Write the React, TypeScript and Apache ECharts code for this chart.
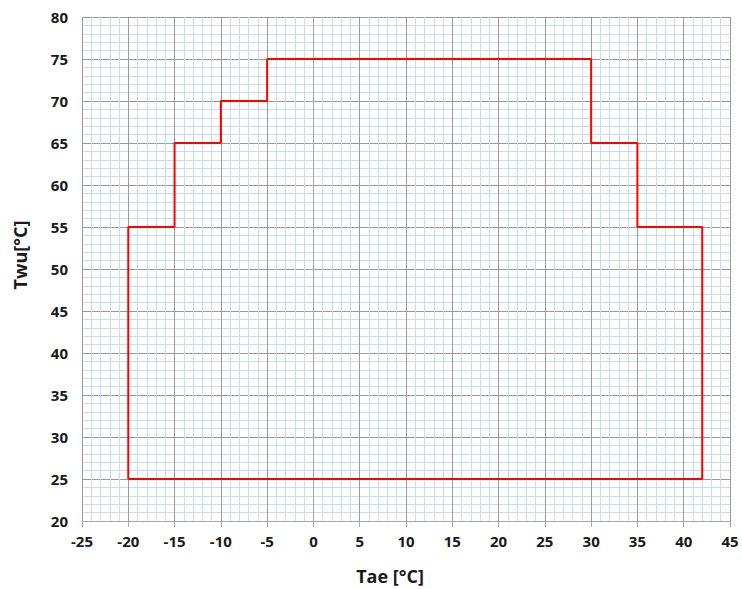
import React, { useEffect, useRef } from "react";
import * as echarts from "echarts";

const xValues = [-20, -20, -15, -15, -10, -10, -5, -5, 30, 30, 35, 35, 42, 42, -20];
const yValues = [25, 55, 55, 65, 65, 70, 70, 75, 75, 65, 65, 55, 55, 25, 25];
const xAxisName = "Tae [°C]";
const yAxisName = "Twu[°C]";

export default function App() {
  const ref = useRef<HTMLDivElement>(null);
  useEffect(() => {
    if (!ref.current) return;
    const chart = echarts.init(ref.current, undefined, { renderer: "svg" });
    const font = "'Open Sans', 'DejaVu Sans', sans-serif";
    const axisCommon = {
      type: "value" as const,
      interval: 5,
      axisLine: { show: true, lineStyle: { color: "#a6a6a6", width: 1 } },
      axisTick: { show: true, length: 6, lineStyle: { color: "#a6a6a6" } },
      axisLabel: { color: "#1a1a1a", fontSize: 15, fontWeight: "bold", fontFamily: font },
      splitLine: { show: true, lineStyle: { color: "#9a9a9a", width: 1 } },
      minorTick: { show: false, splitNumber: 5 },
      minorSplitLine: { show: true, lineStyle: { color: "#c6dcf5", width: 1 } },
    };
    const nameStyle = { fill: "#1a1a1a", fontSize: 18, fontWeight: "bold", fontFamily: font };
    chart.setOption({
      animation: false,
      backgroundColor: "#ffffff",
      grid: { left: 82, right: 12, top: 17, bottom: 68 },
      xAxis: {
        ...axisCommon,
        min: -25,
        max: 45,
        axisLabel: { ...axisCommon.axisLabel, margin: 12 },
      },
      yAxis: {
        ...axisCommon,
        min: 20,
        max: 80,
        axisLabel: { ...axisCommon.axisLabel, margin: 14 },
      },
      graphic: [
        {
          type: "text",
          x: 390,
          y: 576,
          style: { ...nameStyle, text: xAxisName, align: "center", verticalAlign: "middle" },
        },
        {
          type: "text",
          x: 20,
          y: 255,
          rotation: Math.PI / 2,
          style: { ...nameStyle, text: yAxisName, align: "center", verticalAlign: "middle" },
        },
      ],
      series: [
        {
          type: "line",
          data: xValues.map((x, i) => [x, yValues[i]]),
          showSymbol: false,
          symbol: "none",
          lineStyle: { color: "#ff0000", width: 2 },
          z: 5,
        },
      ],
    });
    return () => chart.dispose();
  }, []);
  return <div ref={ref} style={{ width: 742, height: 589, position: "absolute", left: 0, top: 0 }} />;
}
